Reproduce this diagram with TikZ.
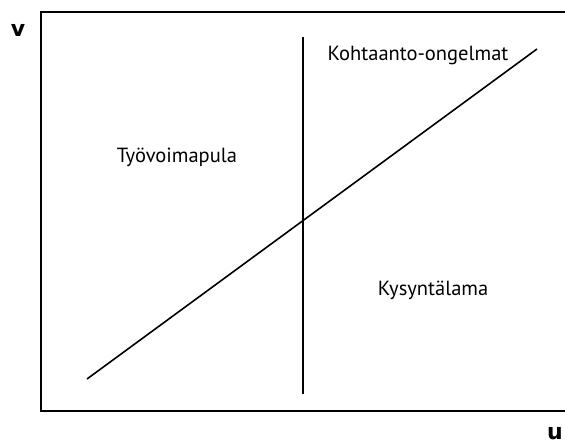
\documentclass[tikz,border=0pt]{standalone}
\usepackage{fontspec}
\setmainfont{PT Sans}
\newfontfamily\axisfont{DejaVu Sans}
\begin{document}
\begin{tikzpicture}[x=1pt,y=-1pt,
  frame/.style={line width=2.6pt},
  curve/.style={line width=1.6pt},
  region/.style={font=\fontsize{20.5}{22}\selectfont, inner sep=0pt},
  axis/.style={font=\axisfont\fontsize{22}{24}\selectfont\bfseries, inner sep=0pt}]
\useasboundingbox (0,0) rectangle (565,444);
\coordinate (tl) at (41,12);
\coordinate (tr) at (566,12);
\coordinate (bl) at (41,411);
\coordinate (br) at (566,411);
\draw[frame] (tr) -- (tl) -- (bl) -- (br);
\coordinate (vt) at (303,37);
\coordinate (vb) at (303,394);
\draw[curve] (vt) -- (vb);
\coordinate (d1) at (87,379);
\coordinate (d2) at (537,49);
\draw[curve] (d1) -- (d2);
\node[region] (k) at (418,55) {Kohtaanto-ongelmat};
\node[region] (t) at (177,157) {Työvoimapula};
\node[region] (ky) at (433,290) {Kysyntälama};
\node[axis] (v) at (18,30) {v};
\node[axis] (u) at (555,434) {u};
\end{tikzpicture}
\end{document}
